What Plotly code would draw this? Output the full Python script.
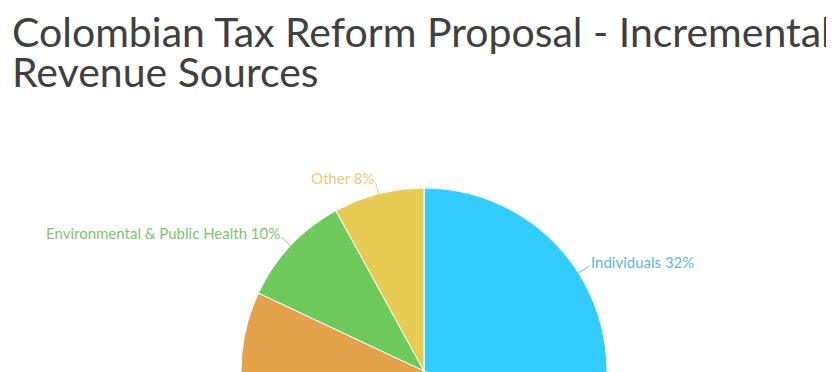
import math
import plotly.graph_objects as go

# ---- data ----
labels = ["Individuals", "Corporations", "Oil, Gas & Mining",
          "Environmental & Public Health", "Other"]
values = [32, 28, 22, 10, 8]
colors = ["#33CCFF", "#E06C75", "#E3A34B", "#6FCA5C", "#E8CB52"]
label_colors = ["#62B4DC", "#E08890", "#E0AE6E", "#7CC46E", "#E3CC7A"]
title_lines = ["Colombian Tax Reform Proposal - Incremental", "Revenue Sources"]

# ---- layout geometry (page body adds an 8px offset) ----
OFF = 8
W, H = 834, 620
CX, CY, R = 424 - OFF, 371 - OFF, 183  # pie centre / radius in pixels

fig = go.Figure(go.Pie(
    labels=labels, values=values, sort=False, direction="clockwise", rotation=0,
    marker=dict(colors=colors, line=dict(color="#FFFFFF", width=1)),
    textinfo="none", hoverinfo="label+percent", showlegend=False,
    domain=dict(x=[(CX - R) / W, (CX + R) / W],
                y=[(H - CY - R) / H, (H - CY + R) / H]),
))

# label placement: leader line from slice edge outward, text at its tail
total = sum(values)
shapes, annotations = [], []
cum = 0
for lab, v, col, tcol in zip(labels, values, colors, label_colors):
    mid = (cum + v / 2) / total * 2 * math.pi
    cum += v
    sx, sy = math.sin(mid), -math.cos(mid)
    if sy > 0:  # label would sit below the visible window
        continue
    ex, ey = CX + R * sx, CY + R * sy
    tx, ty = CX + (R + 12) * sx, CY + (R + 12) * sy
    right = sx >= 0
    shapes.append(dict(type="line", xref="paper", yref="paper",
                       x0=ex / W, y0=1 - ey / H, x1=tx / W, y1=1 - ty / H,
                       line=dict(color=tcol, width=1)))
    pct = round(v / total * 100)
    steep = abs(sx) < 0.5
    annotations.append(dict(
        text=f"{lab} {pct}%", xref="paper", yref="paper",
        x=tx / W,
        y=1 - (ty + (7 if steep else -5)) / H, showarrow=False,
        xanchor="left" if right else "right",
        yanchor="bottom" if steep else "middle",
        font=dict(family="Lato", size=15, color=tcol)))

title_tops = [-3, 37]
for line, top in zip(title_lines, title_tops):
    annotations.append(dict(text=line, xref="paper", yref="paper", x=2 / W,
                            y=1 - top / H, xanchor="left", yanchor="top",
                            showarrow=False,
                            font=dict(family="Lato", size=41, color="#404040")))

fig.update_layout(width=W, height=H, margin=dict(l=0, r=0, t=0, b=0),
                  paper_bgcolor="white", plot_bgcolor="white",
                  shapes=shapes, annotations=annotations)

fig.write_html("out.html")
